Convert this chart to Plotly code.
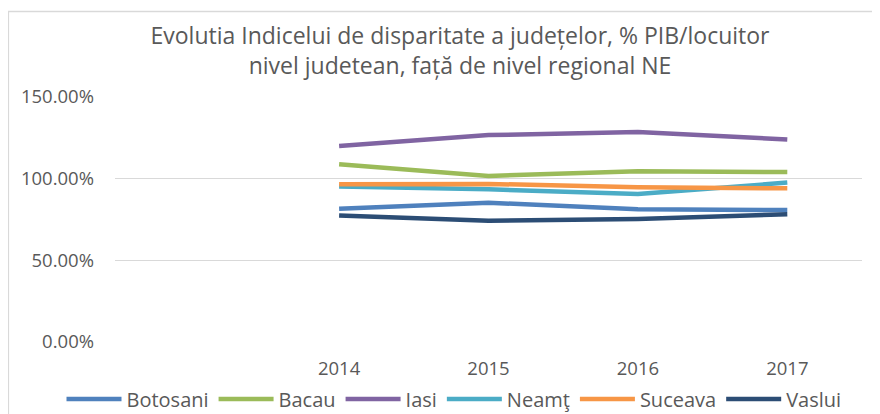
import plotly.graph_objects as go

years = [2014, 2015, 2016, 2017]
series_names = ["Botosani", "Bacau", "Iasi", "Neamţ", "Suceava", "Vaslui"]
botosani = [0.814, 0.851, 0.811, 0.806]
bacau = [1.086, 1.015, 1.043, 1.039]
iasi = [1.198, 1.265, 1.284, 1.238]
neamt = [0.950, 0.933, 0.904, 0.974]
suceava = [0.964, 0.966, 0.945, 0.939]
vaslui = [0.772, 0.741, 0.751, 0.780]
y_ticks = [0, 0.5, 1.0, 1.5]
y_tick_labels = ["0.00%", "50.00%", "100.00%", "150.00%"]

values = [botosani, bacau, iasi, neamt, suceava, vaslui]
colors = ["#4F81BD", "#9BBB59", "#8064A2", "#4BACC6", "#F79646", "#2C4D75"]

W, H = 880, 414
OFF = 8  # page body margin: figure pixel (x, y) shows at (x+8, y+8)
# plot area in screen pixels
PL, PR, PT, PB = 115, 862, 96.7, 341.7

def fx(x):
    return (x - OFF) / W

def fy(y):
    return (H - (y - OFF)) / H

fig = go.Figure()
for name, vals, col in zip(series_names, values, colors):
    fig.add_trace(go.Scatter(x=years, y=vals, name=name, mode="lines",
                             line=dict(color=col, width=4.5)))

font = "Open Sans, sans-serif"
grey = "#595959"
fig.update_layout(
    width=W, height=H,
    margin=dict(l=0, r=0, t=0, b=0, autoexpand=False),
    paper_bgcolor="white", plot_bgcolor="white",
    title=dict(text="Evolutia Indicelui de disparitate a județelor, % PIB/locuitor<br>nivel judetean, față de nivel regional NE",
               x=fx(460), xanchor="center", xref="container",
               y=1 - 36 / H, yanchor="top", yref="container",
               font=dict(family=font, size=23, color=grey)),
    xaxis=dict(domain=[fx(PL), fx(PR)], range=[2012.5, 2017.5],
               tickvals=years, ticktext=[str(y) for y in years],
               showgrid=False, zeroline=False, showline=False,
               ticks="", ticklabelstandoff=14,
               tickfont=dict(family=font, size=18.5, color=grey)),
    yaxis=dict(domain=[fy(PB), fy(PT)], range=[0, 1.5],
               tickvals=y_ticks, ticktext=y_tick_labels,
               showgrid=True, gridcolor="#d9d9d9", gridwidth=1.3,
               zeroline=False, showline=False, ticks="", ticklabelstandoff=20,
               tickfont=dict(family=font, size=18.5, color=grey)),
    showlegend=True,
    legend=dict(orientation="h", x=fx(454), xanchor="center",
                y=fy(399), yanchor="middle", itemwidth=55,
                font=dict(family=font, size=20, color=grey),
                bgcolor="rgba(0,0,0,0)", tracegroupgap=0),
    shapes=[dict(type="rect", xref="paper", yref="paper",
                 x0=0.0005, x1=1.05, y0=-0.1, y1=fy(11.5),
                 line=dict(color="#d9d9d9", width=1.3), fillcolor="rgba(0,0,0,0)",
                 layer="below")],
)

fig.write_html("out.html")
